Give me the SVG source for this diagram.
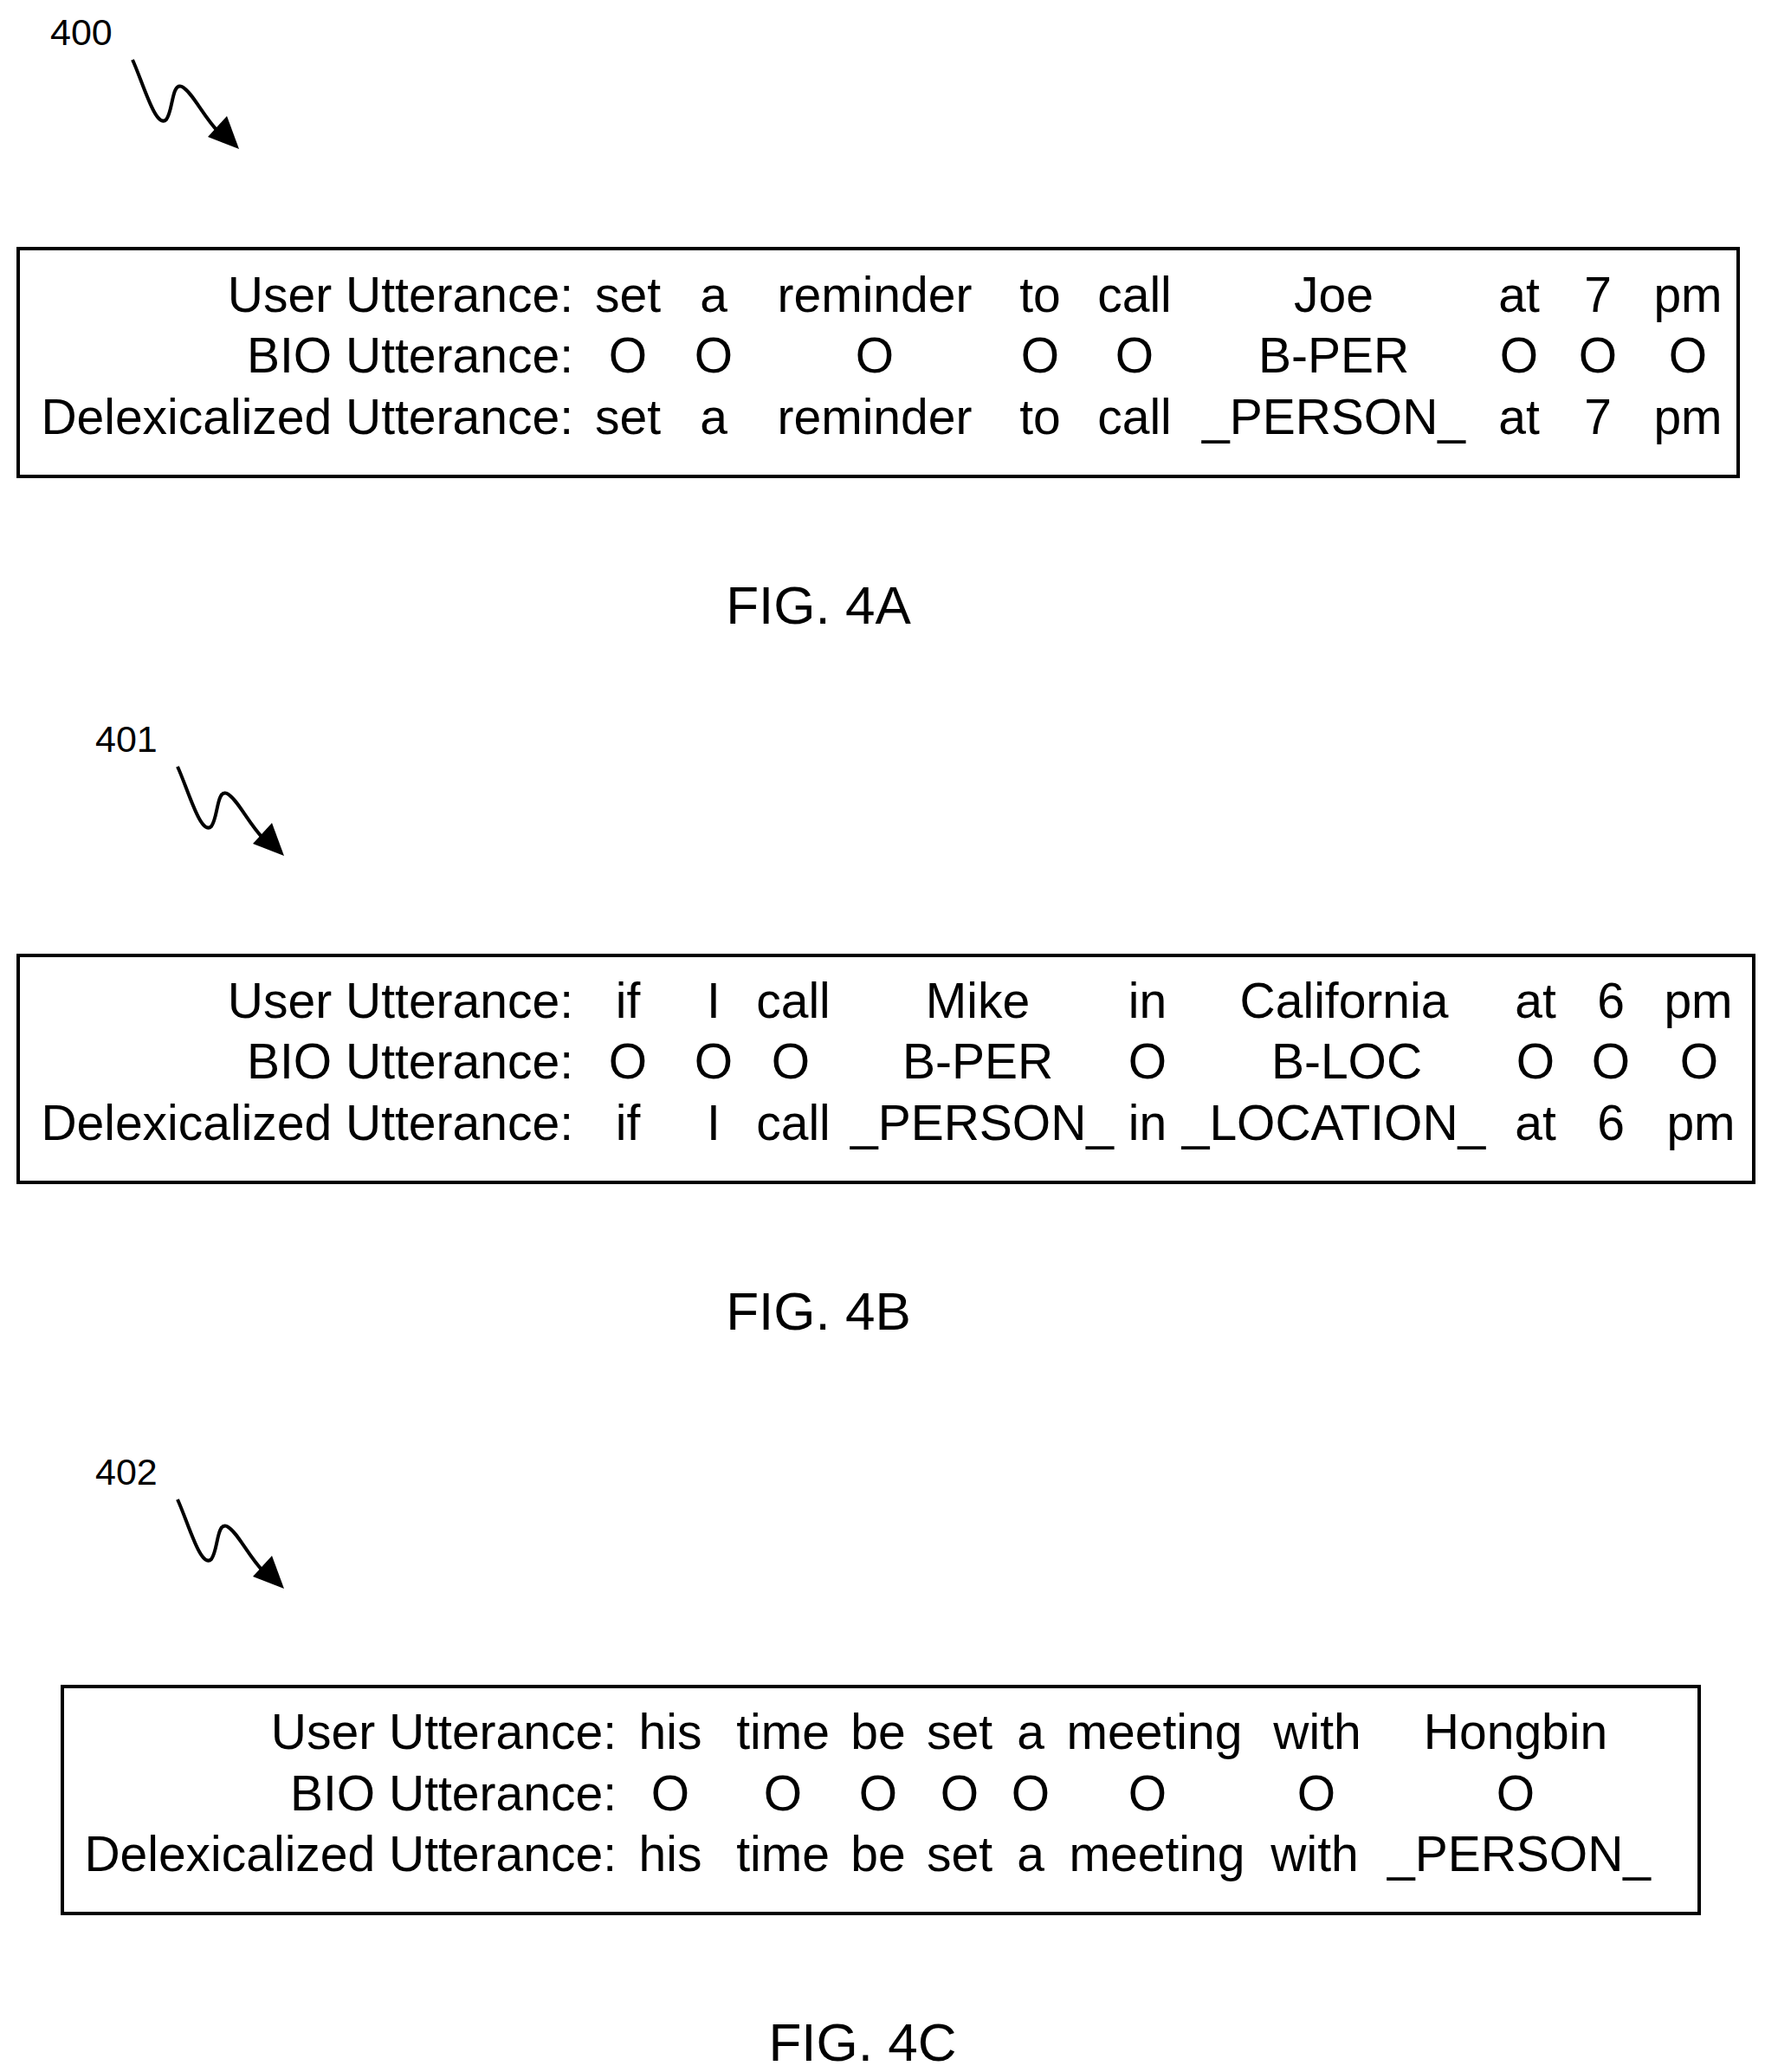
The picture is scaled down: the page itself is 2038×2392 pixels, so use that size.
<svg xmlns="http://www.w3.org/2000/svg" width="2038" height="2392" viewBox="0 0 2038 2392">
<style>
text{font-family:"Liberation Sans",Arial,sans-serif;fill:#000}
.t{font-size:57px;text-anchor:middle}
.l{font-size:57px;text-anchor:end}
.f{font-size:62px;text-anchor:middle}
.r{font-size:43px}
.box{fill:#fff;stroke:#000;stroke-width:4}
.sq{fill:none;stroke:#000;stroke-width:4}
</style>
<defs>
<marker id="ah" markerWidth="10" markerHeight="10" refX="8" refY="5" orient="auto" markerUnits="userSpaceOnUse" viewBox="0 0 10 10"><path d="M0,0 L10,5 L0,10 z"/></marker>
<g id="squig">
<path class="sq" d="M153,69 C165,95 180,150 192,138 C200,128 198,95 210,100 C222,106 235,135 252,152"/>
<path d="M276,172 L240,158 L262,134 z"/>
</g>
</defs>
<g id="connectors">
<use href="#squig"/>
<use href="#squig" transform="translate(52,816)"/>
<use href="#squig" transform="translate(52,1662)"/>
</g>
<g id="ref400"><text class="r" x="58" y="52">400</text></g>
<g id="ref401"><text class="r" x="110" y="868">401</text></g>
<g id="ref402"><text class="r" x="110" y="1714">402</text></g>

<g id="boxA">
<rect class="box" x="21" y="287" width="1986" height="263"/>
<text class="l" x="662" y="360">User Utterance:</text>
<text class="l" x="662" y="430">BIO Utterance:</text>
<text class="l" x="662" y="501">Delexicalized Utterance:</text>
<g class="t">
<text x="725" y="360">set</text><text x="824" y="360">a</text><text x="1010" y="360">reminder</text><text x="1201" y="360">to</text><text x="1310" y="360">call</text><text x="1540" y="360">Joe</text><text x="1754" y="360">at</text><text x="1845" y="360">7</text><text x="1949" y="360">pm</text>
<text x="725" y="430">O</text><text x="824" y="430">O</text><text x="1010" y="430">O</text><text x="1201" y="430">O</text><text x="1310" y="430">O</text><text x="1540" y="430">B-PER</text><text x="1754" y="430">O</text><text x="1845" y="430">O</text><text x="1949" y="430">O</text>
<text x="725" y="501">set</text><text x="824" y="501">a</text><text x="1010" y="501">reminder</text><text x="1201" y="501">to</text><text x="1310" y="501">call</text><text x="1540" y="501">_PERSON_</text><text x="1754" y="501">at</text><text x="1845" y="501">7</text><text x="1949" y="501">pm</text>
</g>
</g>
<g id="figA"><text class="f" x="945" y="720">FIG. 4A</text></g>

<g id="boxB">
<rect class="box" x="21" y="1103" width="2004" height="262"/>
<text class="l" x="662" y="1175">User Utterance:</text>
<text class="l" x="662" y="1245">BIO Utterance:</text>
<text class="l" x="662" y="1316">Delexicalized Utterance:</text>
<g class="t">
<text x="725" y="1175">if</text><text x="824" y="1175">I</text><text x="916" y="1175">call</text><text x="1129" y="1175">Mike</text><text x="1325" y="1175">in</text><text x="1552" y="1175">California</text><text x="1773" y="1175">at</text><text x="1860" y="1175">6</text><text x="1961" y="1175">pm</text>
<text x="725" y="1245">O</text><text x="824" y="1245">O</text><text x="913" y="1245">O</text><text x="1129" y="1245">B-PER</text><text x="1325" y="1245">O</text><text x="1555" y="1245">B-LOC</text><text x="1773" y="1245">O</text><text x="1860" y="1245">O</text><text x="1962" y="1245">O</text>
<text x="725" y="1316">if</text><text x="824" y="1316">I</text><text x="916" y="1316">call</text><text x="1134" y="1316">_PERSON_</text><text x="1325" y="1316">in</text><text x="1540" y="1316">_LOCATION_</text><text x="1773" y="1316">at</text><text x="1860" y="1316">6</text><text x="1964" y="1316">pm</text>
</g>
</g>
<g id="figB"><text class="f" x="945" y="1535">FIG. 4B</text></g>

<g id="boxC">
<rect class="box" x="72" y="1947" width="1890" height="262"/>
<text class="l" x="712" y="2019">User Utterance:</text>
<text class="l" x="712" y="2090">BIO Utterance:</text>
<text class="l" x="712" y="2160">Delexicalized Utterance:</text>
<g class="t">
<text x="774" y="2019">his</text><text x="904" y="2019">time</text><text x="1014" y="2019">be</text><text x="1108" y="2019">set</text><text x="1190" y="2019">a</text><text x="1333" y="2019">meeting</text><text x="1521" y="2019">with</text><text x="1750" y="2019">Hongbin</text>
<text x="774" y="2090">O</text><text x="904" y="2090">O</text><text x="1014" y="2090">O</text><text x="1108" y="2090">O</text><text x="1190" y="2090">O</text><text x="1325" y="2090">O</text><text x="1520" y="2090">O</text><text x="1750" y="2090">O</text>
<text x="774" y="2160">his</text><text x="904" y="2160">time</text><text x="1014" y="2160">be</text><text x="1108" y="2160">set</text><text x="1190" y="2160">a</text><text x="1336" y="2160">meeting</text><text x="1518" y="2160">with</text><text x="1754" y="2160">_PERSON_</text>
</g>
</g>
<g id="figC"><text class="f" x="996" y="2379">FIG. 4C</text></g>
</svg>
